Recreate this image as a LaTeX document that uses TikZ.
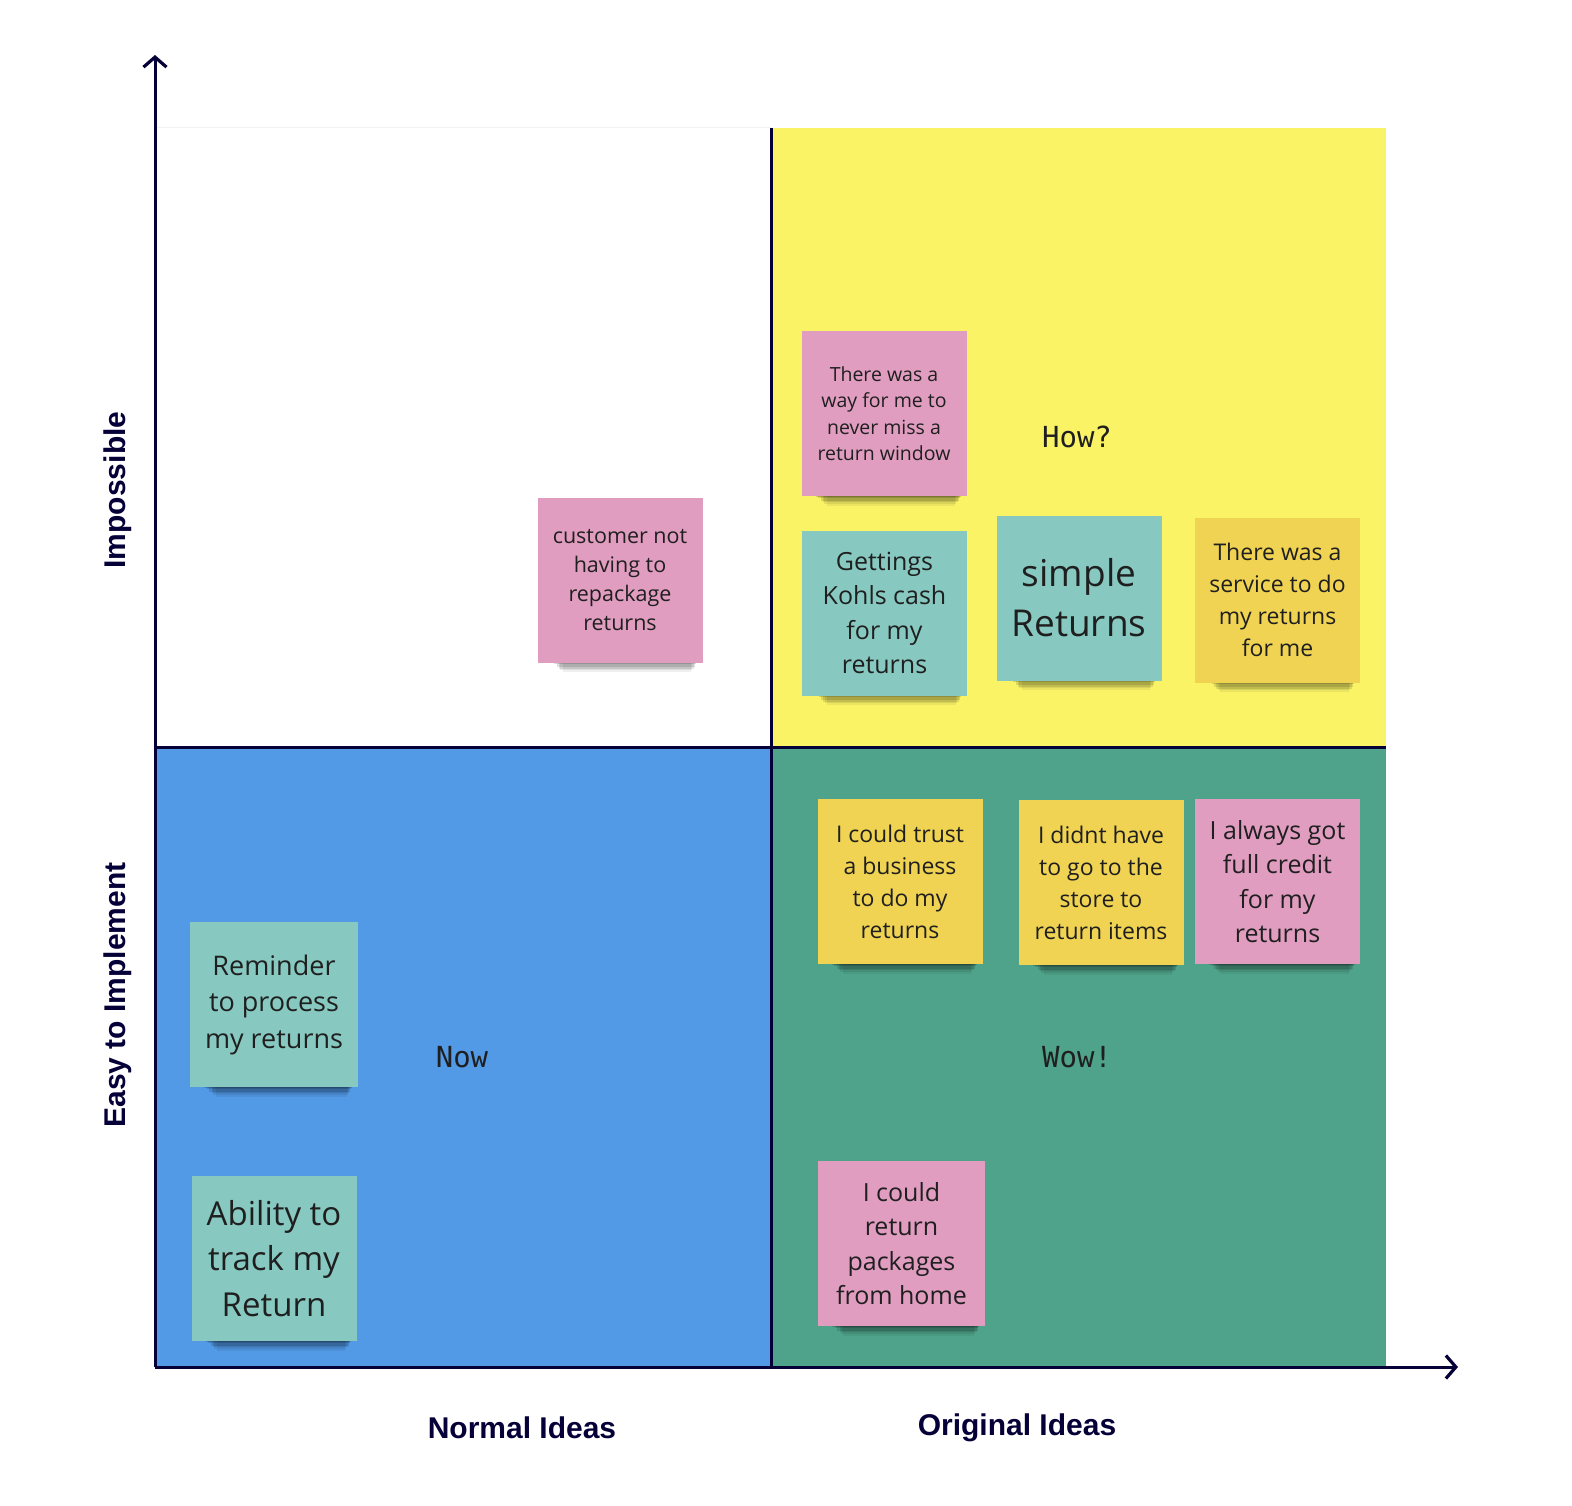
\documentclass[tikz,border=0pt]{standalone}
\usepackage{fontspec}
\setmainfont{Open Sans}
\newfontfamily\monofont{DejaVu Sans Mono}
\newfontfamily\headfont{Liberation Sans}
\usetikzlibrary{arrows.meta,shadows}

\definecolor{axisnavy}{HTML}{050038}
\definecolor{quadyellow}{HTML}{FAF366}
\definecolor{quadblue}{HTML}{5299E6}
\definecolor{quadgreen}{HTML}{4FA38A}
\definecolor{notepink}{HTML}{E09DC0}
\definecolor{noteteal}{HTML}{87C9C1}
\definecolor{noteyellow}{HTML}{F0D352}
\definecolor{notetext}{HTML}{1F1F1F}

\tikzset{
  axisline/.style={draw=axisnavy, line width=3pt, -{Straight Barb[length=10pt,width=23pt,line width=3.2pt]}},
  divider/.style={draw=axisnavy, line width=3pt},
  sticky/.style={
    minimum width=165pt, minimum height=165pt, inner sep=0pt,
    align=center, text=notetext,
    general shadow={fill=black, opacity=.06, shadow xshift=9pt, shadow yshift=-36pt, shadow scale=.78},
    general shadow={fill=black, opacity=.08, shadow xshift=8pt, shadow yshift=-30.5pt, shadow scale=.80},
    general shadow={fill=black, opacity=.10, shadow xshift=8pt, shadow yshift=-25.85pt, shadow scale=.82},
    general shadow={fill=black, opacity=.12, shadow xshift=7pt, shadow yshift=-21.2pt, shadow scale=.84},
    general shadow={fill=black, opacity=.14, shadow xshift=6pt, shadow yshift=-15.55pt, shadow scale=.86},
    general shadow={fill=black, opacity=.16, shadow xshift=5pt, shadow yshift=-11.9pt, shadow scale=.88}
  },
  quadlabel/.style={font=\monofont\fontsize{29}{32}\selectfont, text=notetext},
  axislabel/.style={font=\headfont\bfseries\fontsize{30}{34}\selectfont, text=axisnavy}
}

\begin{document}
\begin{tikzpicture}[x=1pt,y=-1pt]
\useasboundingbox (0,0) rectangle (1572,1506);
\fill[white] (0,0) rectangle (1572,1506);

% quadrants
\fill[quadyellow] (771,128) rectangle (1386,747);
\fill[quadblue] (155,747) rectangle (771,1367);
\fill[quadgreen] (771,747) rectangle (1386,1367);
\draw[black!5, line width=1pt] (155,128) -- (771,128);

% dividers
\coordinate (vtop) at (771,128);
\coordinate (vbot) at (771,1367);
\coordinate (hleft) at (155,747);
\coordinate (hright) at (1386,747);
\draw[divider] (vtop) -- (vbot);
\draw[divider] (hleft) -- (hright);

% axes
\coordinate (origin) at (155,1367);
\coordinate (ytip) at (155,55);
\coordinate (xtip) at (1458,1367);
\draw[axisline] (origin) -- (ytip);
\draw[axisline] (origin) -- (xtip);

% axis labels
\node[axislabel, rotate=90] (impossible) at (118,490) {Impossible};
\node[axislabel, rotate=90] (easy) at (118,995) {Easy to Implement};
\node[axislabel] (normal) at (522,1428) {Normal Ideas};
\node[axislabel] (original) at (1017,1428) {Original Ideas};

% quadrant labels
\node[quadlabel] (how) at (1077,437) {How?};
\node[quadlabel] (now) at (462,1057) {Now};
\node[quadlabel] (wow) at (1077,1057) {Wow!};

% sticky notes
\node[sticky, fill=notepink, font=\fontsize{19.5}{26.5}\selectfont] (n1) at (884,413.5)
  {There was a\\way for me to\\never miss a\\return window};
\node[sticky, fill=notepink, font=\fontsize{21.5}{29}\selectfont] (n2) at (620,580)
  {customer not\\having to\\repackage\\returns};
\node[sticky, fill=noteteal, font=\fontsize{25}{34.5}\selectfont] (n3) at (884.5,613)
  {Gettings\\Kohls cash\\for my\\returns};
\node[sticky, fill=noteteal, font=\fontsize{37}{50}\selectfont] (n4) at (1079,598)
  {simple\\Returns};
\node[sticky, fill=noteyellow, font=\fontsize{23}{32}\selectfont] (n5) at (1277.5,600)
  {There was a\\service to do\\my returns\\for me};
\node[sticky, fill=noteyellow, font=\fontsize{23}{32}\selectfont] (n6) at (900,881.5)
  {I could trust\\a business\\to do my\\returns};
\node[sticky, fill=noteyellow, font=\fontsize{23}{32}\selectfont] (n7) at (1101,882.5)
  {I didnt have\\to go to the\\store to\\return items};
\node[sticky, fill=notepink, font=\fontsize{25}{34.5}\selectfont] (n8) at (1277.5,881.5)
  {I always got\\full credit\\for my\\returns};
\node[sticky, fill=noteteal, minimum width=168pt, font=\fontsize{27}{36.5}\selectfont] (n9) at (274,1004.5)
  {Reminder\\to process\\my returns};
\node[sticky, fill=noteteal, font=\fontsize{33}{45.5}\selectfont] (n10) at (274,1258.5)
  {Ability to\\track my\\Return};
\node[sticky, fill=notepink, minimum width=167pt, font=\fontsize{25}{34.5}\selectfont] (n11) at (901.5,1243.5)
  {I could\\return\\packages\\from home};
\end{tikzpicture}
\end{document}
